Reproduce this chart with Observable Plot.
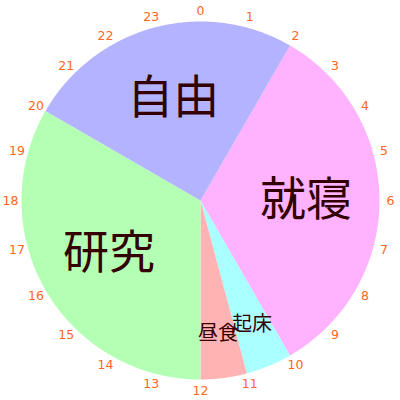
<!DOCTYPE html>
<html>
<head>
<meta charset="utf-8">
<script src="https://cdn.jsdelivr.net/npm/d3@7"></script>
<script src="https://cdn.jsdelivr.net/npm/@observablehq/plot@0.6"></script>
<style>
  body { margin: 0; background: #fff; }
</style>
</head>
<body>
<div id="chart"></div>
<script>
const categories = ["就寝", "起床", "昼食", "研究", "自由"];
const startHours = [2, 10, 11, 12, 20];
const endHours = [10, 11, 12, 20, 26];
const sliceColors = ["#ffb3ff", "#aaffff", "#ffb3b3", "#b3ffb3", "#b3b3ff"];
const hourLabels = d3.range(24).map(String);

const R = 179;
const RL = 190;
const toXY = (h, r) => {
  const t = h / 24 * 2 * Math.PI;
  return [r * Math.sin(t), -r * Math.cos(t)];
};

const slicePts = [];
categories.forEach((c, i) => {
  const s = startHours[i], e = endHours[i];
  slicePts.push({name: c, color: sliceColors[i], x: 0, y: 0});
  const n = Math.ceil((e - s) * 30);
  for (let k = 0; k <= n; k++) {
    const [x, y] = toXY(s + (e - s) * k / n, R);
    slicePts.push({name: c, color: sliceColors[i], x, y});
  }
  slicePts.push({name: c, color: sliceColors[i], x: 0, y: 0});
});

const sliceLabels = categories.map((c, i) => {
  const span = endHours[i] - startHours[i];
  const big = span >= 2;
  const [x, y] = toXY((startHours[i] + endHours[i]) / 2, R * (big ? 0.59 : 0.75));
  return {text: c, x, y, size: big ? 46 : 20};
});

const hourPts = hourLabels.map((t, h) => {
  const [x, y] = toXY(h, RL);
  return {text: t, x, y};
});

const chart = Plot.plot({
  width: 400,
  height: 400,
  margin: 0,
  x: {domain: [-200, 200], axis: null},
  y: {domain: [-200, 200], reverse: true, axis: null},
  marks: [
    Plot.line(slicePts, {x: "x", y: "y", z: "name", fill: "color", stroke: "none", curve: "linear"}),
    Plot.text(hourPts, {x: "x", y: "y", text: "text", fill: "#ff6622", fontSize: 12.5, fontFamily: "DejaVu Sans, sans-serif", textAnchor: "middle", lineAnchor: "middle"}),
    Plot.text(sliceLabels, {x: "x", y: "y", text: "text", fontSize: "size", fill: "#330000", fontFamily: "Noto Sans CJK JP", textAnchor: "middle", lineAnchor: "middle"})
  ]
});
document.getElementById("chart").appendChild(chart);
</script>
</body>
</html>
